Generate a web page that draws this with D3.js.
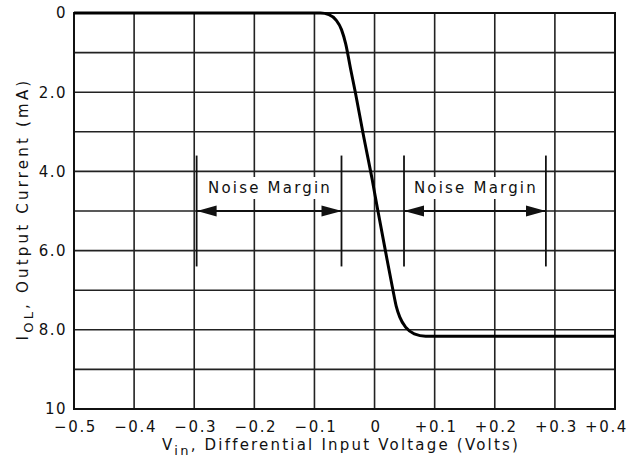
<!DOCTYPE html>
<html>
<head>
<meta charset="utf-8">
<script src="https://cdn.jsdelivr.net/npm/d3@7"></script>
<style>
  body { margin: 0; background: #fff; }
  text { font-family: "DejaVu Sans", sans-serif; fill: #111; }
</style>
</head>
<body>
<div id="chart"></div>
<script>
// transfer curve: differential input (V) vs output current (mA)
var vin = [-0.5, -0.09, -0.076, -0.064, -0.055, -0.048, -0.04, -0.032, -0.019, -0.004, 0.005, 0.018, 0.03, 0.036, 0.042, 0.052, 0.066, 0.085, 0.4];
var iol = [0, 0, 0.04, 0.18, 0.42, 0.78, 1.4, 2.0, 3.05, 4.2, 4.95, 6.0, 6.95, 7.4, 7.68, 7.94, 8.1, 8.16, 8.16];

var xTicks = [-0.5, -0.4, -0.3, -0.2, -0.1, 0, 0.1, 0.2, 0.3, 0.4];
var xTickLabels = ["\u22120.5", "\u22120.4", "\u22120.3", "\u22120.2", "\u22120.1", "0", "+0.1", "+0.2", "+0.3", "+0.4"];
var yTicks = [0, 2, 4, 6, 8, 10];
var yTickLabels = ["0", "2.0", "4.0", "6.0", "8.0", "10"];
var yGrid = [0, 1, 2, 3, 4, 5, 6, 7, 8, 9, 10];

// noise margin brackets [from, to] in volts, and their marker span in mA
var marginLow = [-0.296, -0.055];
var marginHigh = [0.049, 0.285];
var marginSpan = [3.6, 6.4];
var marginArrowAt = 5.0;
var marginText = "Noise Margin";

var width = 630, height = 462;
var x = d3.scaleLinear().domain([-0.5, 0.4]).range([74, 615]);
var y = d3.scaleLinear().domain([0, 10]).range([13, 409]);

var svg = d3.select("#chart").append("svg")
    .attr("width", width)
    .attr("height", height);

var defs = svg.append("defs");
["start", "end"].forEach(function(k) {
  defs.append("marker")
      .attr("id", "arrow-" + k)
      .attr("markerUnits", "userSpaceOnUse")
      .attr("viewBox", "0 -6 20 12")
      .attr("refX", k == "end" ? 20 : 0)
      .attr("refY", 0)
      .attr("markerWidth", 20)
      .attr("markerHeight", 12)
      .attr("orient", "auto")
    .append("path")
      .attr("d", k == "end" ? "M0,-5.5L20,0L0,5.5Z" : "M20,-5.5L0,0L20,5.5Z")
      .attr("fill", "#111");
});

// grid
svg.append("g")
    .selectAll("line.vg")
    .data(xTicks)
    .enter().append("line")
    .attr("x1", d => x(d)).attr("x2", d => x(d))
    .attr("y1", y(0)).attr("y2", y(10))
    .attr("stroke", "#222").attr("stroke-width", 1.6);

svg.append("g")
    .selectAll("line.hg")
    .data(yGrid)
    .enter().append("line")
    .attr("x1", x(-0.5)).attr("x2", x(0.4))
    .attr("y1", d => y(d)).attr("y2", d => y(d))
    .attr("stroke", "#222").attr("stroke-width", 1.6);

svg.append("rect")
    .attr("x", x(-0.5)).attr("y", y(0))
    .attr("width", x(0.4) - x(-0.5)).attr("height", y(10) - y(0))
    .attr("fill", "none").attr("stroke", "#111").attr("stroke-width", 2);

// axes (labels only)
var xAxis = svg.append("g")
    .attr("transform", "translate(0," + y(10) + ")")
    .call(d3.axisBottom(x).tickValues(xTicks).tickSize(0).tickPadding(12)
      .tickFormat((d, i) => xTickLabels[i]));
xAxis.select(".domain").remove();
xAxis.selectAll("text")
    .attr("font-size", 15).attr("letter-spacing", "1.6px")
    .attr("font-family", "DejaVu Sans").attr("fill", "#111")
    .attr("dx", (d, i) => i == xTicks.length - 1 ? -9 : 1);

var yAxis = svg.append("g")
    .attr("transform", "translate(" + x(-0.5) + ",0)")
    .call(d3.axisLeft(y).tickValues(yTicks).tickSize(0).tickPadding(7)
      .tickFormat((d, i) => yTickLabels[i]));
yAxis.select(".domain").remove();
yAxis.selectAll("text")
    .attr("font-size", 15).attr("letter-spacing", "1.5px")
    .attr("font-family", "DejaVu Sans").attr("fill", "#111");

// noise margins
[marginLow, marginHigh].forEach(function(m) {
  m.forEach(function(v) {
    svg.append("line")
        .attr("x1", x(v)).attr("x2", x(v))
        .attr("y1", y(marginSpan[0])).attr("y2", y(marginSpan[1]))
        .attr("stroke", "#111").attr("stroke-width", 1.8);
  });
  svg.append("line")
      .attr("x1", x(m[0])).attr("x2", x(m[1]))
      .attr("y1", y(marginArrowAt)).attr("y2", y(marginArrowAt))
      .attr("stroke", "#111").attr("stroke-width", 2)
      .attr("marker-start", "url(#arrow-start)")
      .attr("marker-end", "url(#arrow-end)");
  svg.append("rect")
      .attr("x", x((m[0] + m[1]) / 2) - 62).attr("y", y(marginArrowAt) - 34)
      .attr("width", 124).attr("height", 22)
      .attr("fill", "#fff");
  svg.append("text")
      .attr("x", x((m[0] + m[1]) / 2) + 1)
      .attr("y", y(marginArrowAt) - 18)
      .attr("text-anchor", "middle")
      .attr("font-size", 15).attr("letter-spacing", "2.2px")
      .text(marginText);
});

// transfer curve
var line = d3.line()
    .x(d => x(d[0]))
    .y(d => y(d[1]))
    .curve(d3.curveMonotoneX);

svg.append("path")
    .datum(vin.map((v, i) => [v, iol[i]]))
    .attr("d", line)
    .attr("fill", "none")
    .attr("stroke", "#000")
    .attr("stroke-width", 3);

// axis titles
var xt = svg.append("text")
    .attr("x", 341).attr("y", 450)
    .attr("text-anchor", "middle")
    .attr("font-size", 15).attr("letter-spacing", "2.2px");
xt.append("tspan").text("V");
xt.append("tspan").attr("font-size", 13).attr("dy", 5).text("in");
xt.append("tspan").attr("dy", -5).text(", Differential Input Voltage (Volts)");

var yt = svg.append("text")
    .attr("transform", "translate(28,209) rotate(-90)")
    .attr("text-anchor", "middle")
    .attr("font-size", 15).attr("letter-spacing", "3.2px");
yt.append("tspan").text("I");
yt.append("tspan").attr("font-size", 13).attr("dy", 5).text("OL");
yt.append("tspan").attr("dy", -5).text(", Output Current (mA)");
</script>
</body>
</html>
